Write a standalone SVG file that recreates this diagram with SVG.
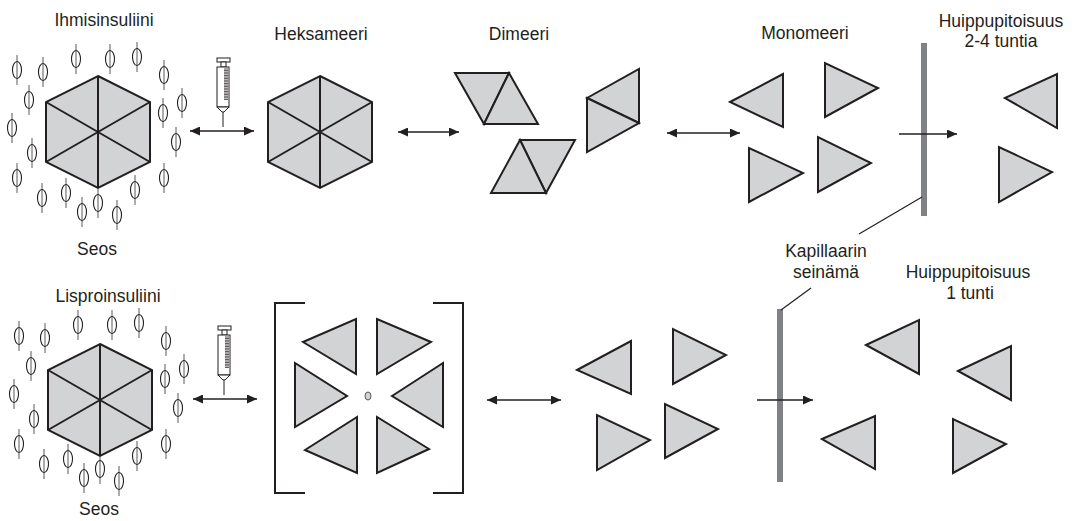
<svg xmlns="http://www.w3.org/2000/svg" xmlns:xlink="http://www.w3.org/1999/xlink" width="1074" height="521" viewBox="0 0 1074 521">
  <style>
    .lbl { font-family: "Liberation Sans", Arial, sans-serif; font-size: 17.5px; fill: #231f20; text-anchor: middle; }
    .sh { fill: #d1d3d4; stroke: #231f20; stroke-width: 2; stroke-linejoin: miter; }
    .in { fill: none; stroke: #231f20; stroke-width: 2; }
    .ar { fill: none; stroke: #231f20; stroke-width: 1.6; }
    .wall { stroke: #808285; stroke-width: 6; }
    .lead { stroke: #231f20; stroke-width: 1.2; }
    .syr { fill: #fff; stroke: #231f20; stroke-width: 1; }
  </style>
  <defs>
    <marker id="head" markerUnits="userSpaceOnUse" markerWidth="11" markerHeight="9" refX="10" refY="4.5" orient="auto-start-reverse">
      <path d="M0,0 L10,4.5 L0,9 Z" fill="#231f20"/>
    </marker>
    <!-- small stabiliser molecule: oval pierced by a vertical stick -->
    <g id="mol">
      <line x1="0" y1="-15" x2="0" y2="15" stroke="#58595b" stroke-width="1"/>
      <ellipse cx="0" cy="0" rx="4.5" ry="8.5" fill="none" stroke="#231f20" stroke-width="1.1"/>
    </g>
    <g id="mols">
      <use xlink:href="#mol" x="17" y="70"/>
      <use xlink:href="#mol" x="43" y="72"/>
      <use xlink:href="#mol" x="76" y="59"/>
      <use xlink:href="#mol" x="110" y="59"/>
      <use xlink:href="#mol" x="137" y="57"/>
      <use xlink:href="#mol" x="164" y="75"/>
      <use xlink:href="#mol" x="29" y="100"/>
      <use xlink:href="#mol" x="182" y="103"/>
      <use xlink:href="#mol" x="163" y="113"/>
      <use xlink:href="#mol" x="12" y="128"/>
      <use xlink:href="#mol" x="176" y="142"/>
      <use xlink:href="#mol" x="32" y="153"/>
      <use xlink:href="#mol" x="17" y="178"/>
      <use xlink:href="#mol" x="164" y="178"/>
      <use xlink:href="#mol" x="42" y="198"/>
      <use xlink:href="#mol" x="66" y="193"/>
      <use xlink:href="#mol" x="135" y="190"/>
      <use xlink:href="#mol" x="82" y="212"/>
      <use xlink:href="#mol" x="98" y="203"/>
      <use xlink:href="#mol" x="117" y="215"/>
    </g>
    <!-- hexamer centred on the origin -->
    <g id="hex">
      <polygon class="sh" points="0,-56 52,-30 52,30 0,56 -52,30 -52,-30"/>
      <path class="in" d="M0,-56 L0,56 M52,-30 L-52,30 M52,30 L-52,-30"/>
    </g>
    <!-- syringe -->
    <g id="syringe">
      <rect class="syr" x="217" y="58" width="13" height="4"/>
      <rect class="syr" x="221" y="62" width="5" height="5"/>
      <rect class="syr" x="217" y="67" width="12" height="40"/>
      <path class="syr" d="M217,107 L229,107 L224,112 L222,112 Z"/>
      <line x1="223" y1="112" x2="223" y2="127" stroke="#231f20" stroke-width="1"/>
      <path d="M224,69h4M224,70.6h4M224,72.2h4M224,73.8h4M224,75.4h4M224,77h4M224,78.6h4M224,80.2h4M224,81.8h4M224,83.4h4M224,85h4M224,86.6h4M224,88.2h4M224,89.8h4M224,91.4h4M224,93h4M224,94.6h4M224,96.2h4M224,97.8h4M224,99.4h4" stroke="#231f20" stroke-width="0.8"/>
    </g>
  </defs>

  <!-- ===== upper row: human insulin ===== -->
  <g id="human-mixture">
    <use xlink:href="#mols"/>
    <use xlink:href="#hex" x="98" y="132"/>
    <text class="lbl" x="104" y="26">Ihmisinsuliini</text>
    <text class="lbl" x="97" y="255">Seos</text>
  </g>
  <g id="human-syringe">
    <use xlink:href="#syringe"/>
  </g>
  <g id="hexamer">
    <use xlink:href="#hex" x="320" y="132"/>
    <text class="lbl" x="321" y="40">Heksameeri</text>
  </g>
  <g id="dimers">
    <polygon class="sh" points="455,73 509,73 484,124"/>
    <polygon class="sh" points="509,73 538,124 484,124"/>
    <polygon class="sh" points="520,140 575,140 546,193"/>
    <polygon class="sh" points="520,140 546,193 491,193"/>
    <polygon class="sh" points="587,98 639,69 639,123"/>
    <polygon class="sh" points="587,98 639,123 587,152"/>
    <text class="lbl" x="519" y="40">Dimeeri</text>
  </g>
  <g id="monomers">
    <polygon class="sh" points="730,102 783,74 783,127"/>
    <polygon class="sh" points="825,63 825,117 878,88"/>
    <polygon class="sh" points="749,148 749,202 803,173"/>
    <polygon class="sh" points="818,137 818,192 871,163"/>
    <text class="lbl" x="805" y="39">Monomeeri</text>
  </g>
  <g id="capillary-top">
    <line class="wall" x1="924" y1="43" x2="924" y2="216"/>
  </g>
  <g id="absorbed-top">
    <polygon class="sh" points="1005,98 1057,74 1057,128"/>
    <polygon class="sh" points="999,147 999,202 1052,172"/>
    <text class="lbl" x="1001" y="27">Huippupitoisuus</text>
    <text class="lbl" x="1001" y="47">2-4 tuntia</text>
  </g>

  <!-- ===== lower row: insulin lispro ===== -->
  <g id="lispro-mixture">
    <use xlink:href="#mols" x="2" y="266"/>
    <use xlink:href="#hex" x="100" y="400"/>
    <text class="lbl" x="108" y="302">Lisproinsuliini</text>
    <text class="lbl" x="99" y="515">Seos</text>
  </g>
  <g id="lispro-syringe">
    <use xlink:href="#syringe" x="1" y="268"/>
  </g>
  <g id="lispro-hexamer">
    <path class="in" d="M305,303 H275 V493 H305 M433,303 H463 V493 H433" stroke-width="1.5"/>
    <polygon class="sh" points="303,342 356,319 356,374"/>
    <polygon class="sh" points="377,319 377,374 431,342"/>
    <polygon class="sh" points="295,363 295,427 347,396"/>
    <polygon class="sh" points="392,396 443,363 443,427"/>
    <polygon class="sh" points="305,450 357,417 357,473"/>
    <polygon class="sh" points="377,417 377,473 429,449"/>
    <ellipse cx="368" cy="396" rx="3" ry="4" fill="#d1d3d4" stroke="#58595b" stroke-width="1"/>
  </g>
  <g id="lispro-monomers">
    <polygon class="sh" points="577,370 631,341 631,394"/>
    <polygon class="sh" points="673,329 673,384 726,355"/>
    <polygon class="sh" points="597,415 597,470 650,440"/>
    <polygon class="sh" points="665,404 665,458 718,429"/>
  </g>
  <g id="capillary-bottom">
    <line class="wall" x1="780" y1="309" x2="780" y2="482"/>
    <text class="lbl" x="826" y="257">Kapillaarin</text>
    <text class="lbl" x="826" y="278">seinämä</text>
  </g>
  <g id="absorbed-bottom">
    <polygon class="sh" points="866,345 919,320 919,374"/>
    <polygon class="sh" points="958,371 1011,346 1011,400"/>
    <polygon class="sh" points="822,439 875,416 875,469"/>
    <polygon class="sh" points="953,419 953,473 1006,444"/>
    <text class="lbl" x="968" y="278">Huippupitoisuus</text>
    <text class="lbl" x="970" y="299">1 tunti</text>
  </g>

  <!-- ===== connectors ===== -->
  <g id="connectors">
    <line class="ar" x1="190" y1="131" x2="254" y2="131" marker-start="url(#head)" marker-end="url(#head)"/>
    <line class="ar" x1="398" y1="132" x2="459" y2="132" marker-start="url(#head)" marker-end="url(#head)"/>
    <line class="ar" x1="667" y1="133" x2="740" y2="133" marker-start="url(#head)" marker-end="url(#head)"/>
    <line class="ar" x1="899" y1="134" x2="957" y2="134" marker-end="url(#head)"/>
    <line class="ar" x1="193" y1="399" x2="257" y2="399" marker-start="url(#head)" marker-end="url(#head)"/>
    <line class="ar" x1="487" y1="400" x2="561" y2="400" marker-start="url(#head)" marker-end="url(#head)"/>
    <line class="ar" x1="757" y1="400" x2="813" y2="400" marker-end="url(#head)"/>
    <line class="lead" x1="922" y1="197" x2="859" y2="234"/>
    <line class="lead" x1="781" y1="310" x2="811" y2="288"/>
  </g>
</svg>
